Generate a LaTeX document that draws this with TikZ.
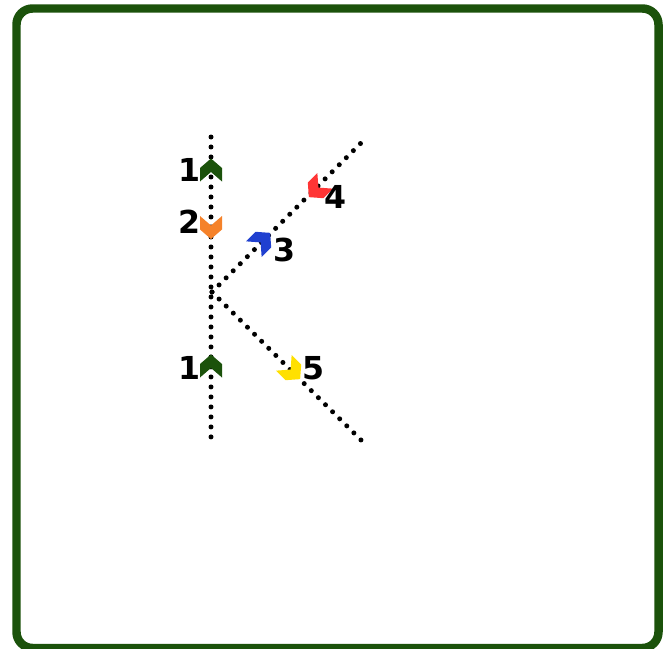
\documentclass[tikz,border=0pt]{standalone}
\usepackage{fontspec}
\setmainfont{DejaVu Sans}
\usepackage{tikz}
\usetikzlibrary{calc}
\definecolor{framegreen}{HTML}{1B520B}
\definecolor{markgreen}{HTML}{1B520B}
\definecolor{markorange}{HTML}{F5822A}
\definecolor{markblue}{HTML}{2040D0}
\definecolor{markred}{HTML}{FF3535}
\definecolor{markyellow}{HTML}{FFE000}
\tikzset{
    frame/.style={draw=framegreen, line width=0.17cm, rounded corners=0.32cm},
    dotline/.style={line width=0.1cm, line cap=round, dash pattern=on 0pt off 0.2cm},
    numlabel/.style={font=\bfseries\fontsize{18}{18}\selectfont, inner sep=0pt},
    chevron/.pic={
        \fill[pic actions] (0,-11.5) -- (11,-2) -- (11,11.5) -- (0,2) -- (-11,11.5) -- (-11,-2) -- cycle;
    }
}

\begin{document}
\begin{tikzpicture}[x=0.02cm, y=-0.02cm]
            \useasboundingbox (0,0) rectangle (667,649);

            % Frame
            \draw[frame] (16.5,8.5) rectangle (658.5,648);

            % Ends of the lines
            \coordinate (top) at (211,137);
            \coordinate (bottom) at (211,443);
            \coordinate (fork) at (212,292);
            \coordinate (upright) at (362,142);
            \coordinate (downright) at (362,441);

            % Dotted lines
            \draw [dotline] (top) -- (bottom);
            \draw [dotline] (fork) -- (upright);
            \draw [dotline] (fork) -- (downright);

            % Markers
            \pic [fill=markgreen] at (211,170) {chevron};
            \pic [fill=markorange, rotate=180] at (211,227.5) {chevron};
            \pic [fill=markblue, rotate=-45] at (262,241) {chevron};
            \pic [fill=markred, rotate=135] at (317,189) {chevron};
            \pic [fill=markyellow, rotate=-135] at (292,371) {chevron};
            \pic [fill=markgreen] at (211,366) {chevron};

            % Labels
            \node (n1) [numlabel] at (190,170) {1};
            \node (n2) [numlabel] at (190,222) {2};
            \node (n3) [numlabel] at (285,250) {3};
            \node (n4) [numlabel] at (336,197) {4};
            \node (n5) [numlabel] at (314,368) {5};
            \node (n1b) [numlabel] at (190,368) {1};

\end{tikzpicture}
\end{document}
